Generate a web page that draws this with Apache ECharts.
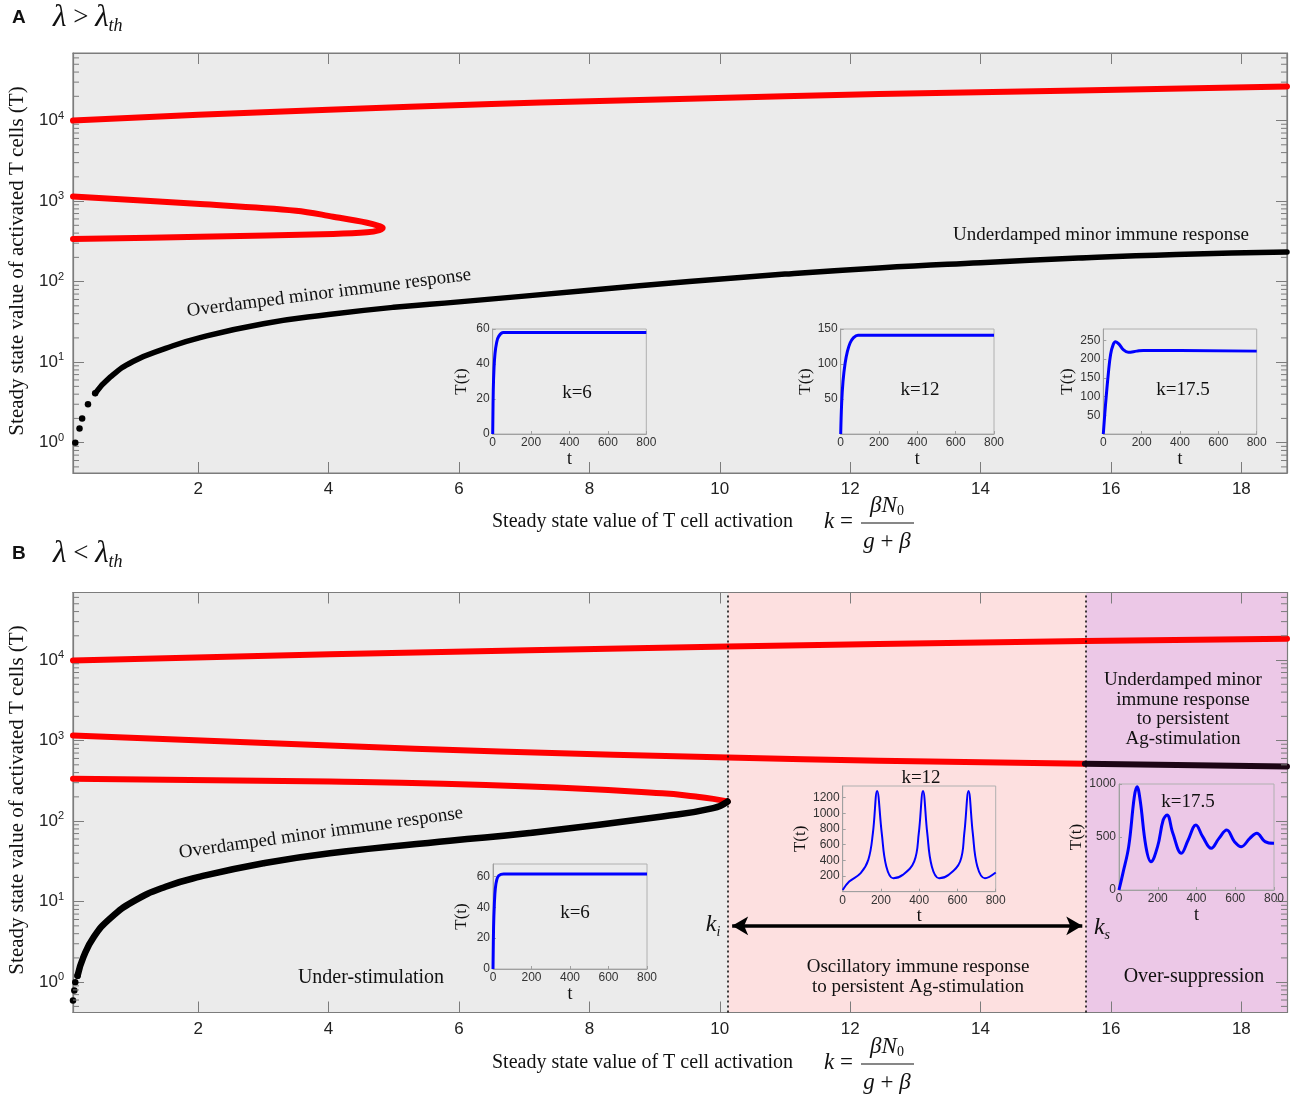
<!DOCTYPE html>
<html>
<head>
<meta charset="utf-8">
<script src="https://cdn.jsdelivr.net/npm/echarts@6/dist/echarts.min.js"></script>
<style>
  html, body { margin: 0; padding: 0; background: #fff; }
  #main { width: 1295px; height: 1098px; }
</style>
</head>
<body>
<div id="main"></div>
<script>
// axis ranges
const K_MIN = 0.08, K_MAX = 18.7;
const T_MIN = 0.42, T_MAX = 69000;
const K_I = 10.13, K_S = 15.62;

// ---- panel A (lambda > lambda_th) ----
const aTopK = [0.08, 2, 4, 6.5, 8, 9.53, 12.44, 15.5, 18.7];
const aTopT = [10000, 11800, 13600, 16000, 17400, 18600, 21300, 23600, 26500];
const aFoldK = [0.08, 2.03, 3.5, 4.07, 4.59, 4.78, 4.83, 4.78, 4.59, 4.07, 2.03, 0.08];
const aFoldT = [1140, 920, 760, 640, 539, 490, 467, 437, 409, 390, 361, 338];
const aDotsK = [0.115, 0.18, 0.22, 0.31, 0.42];
const aDotsT = [1.0, 1.5, 2.0, 3.0, 4.1];
const aLowK = [0.42, 0.65, 1.0, 1.5, 2.03, 3, 4, 5, 6, 8, 9.53, 11, 12.44, 14, 15.5, 17, 18.7];
const aLowT = [4.1, 6.5, 10.2, 14.8, 20.2, 30, 39, 48, 56, 78, 100, 124, 148, 172, 196, 217, 233];

// ---- panel B (lambda < lambda_th) ----
const bTopK = [0.08, 4.02, 10.12, 12.44, 15.6, 18.7];
const bTopT = [9900, 11800, 14700, 15800, 17200, 18400];
const bMidK = [0.08, 4.02, 6.62, 10.12, 12.44, 15.6];
const bMidT = [1160, 871, 734, 618, 562, 515];
const bMidDarkK = [15.6, 18.7];
const bMidDarkT = [515, 477];
const bLowRedK = [0.08, 4.02, 7.08, 9.12, 9.63, 9.9, 10.12];
const bLowRedT = [336, 310, 269, 222, 202, 189, 175];
const bDotsK = [0.08, 0.1, 0.115, 0.15];
const bDotsT = [0.59, 0.79, 1.0, 1.2];
const bLowK = [0.15, 0.24, 0.4, 0.65, 1.0, 1.5, 2.03, 3, 4.02, 5.86, 7.08, 9.12, 9.9, 10.12];
const bLowT = [1.2, 2.05, 3.65, 6.2, 10, 15.3, 20.4, 30, 40, 57, 71, 114, 145, 175];

// ---- inset time courses T(t) ----
const inA1t = [0, 3, 7, 12, 20, 30, 55, 800];
const inA1v = [0, 25, 38, 46, 52, 55.5, 58, 58];
const inA2t = [0, 5, 12, 23, 35, 49, 65, 90, 800];
const inA2v = [0, 44, 75, 101, 118, 130, 137, 141, 141];
const inA3t = [0, 12, 26, 38, 52, 64, 83, 104, 130, 174, 209, 800];
const inA3v = [0, 81, 160, 212, 239, 246, 239, 225, 218, 221, 223, 221];
const inB1t = [0, 3, 7, 12, 20, 30, 55, 800];
const inB1v = [0, 27, 42, 52, 58, 60.5, 61.5, 61.5];
const inB2t = [0, 34, 94, 134, 158, 180, 204, 228, 264, 314, 374, 398, 420, 442, 466, 504, 554, 614, 636, 658, 680, 704, 744, 800];
const inB2v = [22, 129, 237, 408, 751, 1287, 751, 322, 172, 215, 386, 751, 1287, 751, 322, 172, 215, 386, 751, 1287, 751, 322, 172, 245];
const inB3t = [0, 20, 50, 79, 93, 109, 139, 165, 199, 228, 248, 278, 322, 357, 397, 432, 476, 516, 556, 596, 631, 675, 711, 754, 800];
const inB3v = [0, 157, 409, 880, 975, 849, 409, 267, 409, 660, 708, 535, 346, 472, 613, 503, 393, 487, 566, 456, 409, 487, 535, 456, 440];

const LOG_MINOR_MULT = [2, 3, 4, 5, 6, 7, 8, 9];
const LOG_DECADES = [0.1, 1, 10, 100, 1000, 10000];

const SERIF = '"Liberation Serif", "Times New Roman", serif';
const SANS = '"Liberation Sans", Arial, sans-serif';
const GREY = '#7c7c7c';
const RED = '#ff0000';

function pairs(xs, ys) { return xs.map((x, i) => [x, ys[i]]); }

const grids = [], xAxes = [], yAxes = [], series = [];

const minorVals = [];
LOG_DECADES.forEach(d => LOG_MINOR_MULT.forEach(m => {
  const v = d * m;
  if (v > T_MIN && v < T_MAX) minorVals.push(v);
}));

function addMainPanel(top) {
  const g = grids.length;
  grids.push({ left: 73, top: top, width: 1214, height: 420, show: true,
    backgroundColor: '#ebebeb', borderColor: GREY, borderWidth: 1.2 });
  const xi = xAxes.length, yi = yAxes.length;
  const xb = { gridIndex: g, type: 'value', min: K_MIN, max: K_MAX, splitNumber: 9, z: 3,
    splitLine: { show: false },
    axisLine: { lineStyle: { color: GREY, width: 1.2 } },
    axisTick: { inside: true, length: 11, lineStyle: { color: GREY } } };
  xAxes.push(Object.assign({}, xb, { position: 'bottom',
    axisLabel: { fontFamily: SANS, fontSize: 17, color: '#222', margin: 8,
      showMinLabel: false, showMaxLabel: false } }));
  xAxes.push(Object.assign({}, xb, { position: 'top', axisLabel: { show: false } }));
  const yb = { gridIndex: g, type: 'log', logBase: 10, min: T_MIN, max: T_MAX, z: 3,
    splitLine: { show: false },
    axisLine: { lineStyle: { color: GREY, width: 1.2 } },
    axisTick: { inside: true, length: 11, lineStyle: { color: GREY } } };
  yAxes.push(Object.assign({}, yb, { position: 'left',
    axisLabel: { margin: 9, showMinLabel: false, showMaxLabel: false,
      formatter: v => '{b|10}{s|' + Math.round(Math.log10(v)) + '}',
      rich: { b: { fontFamily: SANS, fontSize: 17, color: '#222' },
              s: { fontFamily: SANS, fontSize: 11, color: '#222', padding: [0, 0, 10, 0] } } } }));
  yAxes.push(Object.assign({}, yb, { position: 'right', axisLabel: { show: false } }));
  // log-style minor ticks on both sides
  series.push({ type: 'custom', xAxisIndex: xi, yAxisIndex: yi, silent: true, z: 6,
    data: minorVals.map(v => [K_MIN, v]),
    renderItem: (params, api) => {
      const cs = params.coordSys;
      const y = api.coord([api.value(0), api.value(1)])[1];
      const st = { stroke: GREY, lineWidth: 1 };
      return { type: 'group', children: [
        { type: 'line', shape: { x1: cs.x, y1: y, x2: cs.x + 6, y2: y }, style: st },
        { type: 'line', shape: { x1: cs.x + cs.width - 6, y1: y, x2: cs.x + cs.width, y2: y }, style: st }
      ] };
    } });
  return { xi, yi };
}

function curve(ax, data, color, width, smooth) {
  series.push({ type: 'line', xAxisIndex: ax.xi, yAxisIndex: ax.yi, data: data,
    showSymbol: false, smooth: smooth, silent: true, z: 4,
    lineStyle: { color: color, width: width, cap: 'round', join: 'round' } });
}
function dots(ax, data, size) {
  series.push({ type: 'scatter', xAxisIndex: ax.xi, yAxisIndex: ax.yi, data: data,
    symbolSize: size, silent: true, z: 4, itemStyle: { color: '#000', opacity: 1 } });
}

function addInset(box, yMin, yMax, yInt, showMinY, showMaxY, lineW, t, v) {
  const g = grids.length;
  grids.push({ left: box[0], top: box[1], width: box[2], height: box[3], show: true, z: 5,
    backgroundColor: 'transparent', borderColor: '#b0b0b0', borderWidth: 1 });
  const xi = xAxes.length, yi = yAxes.length;
  xAxes.push({ gridIndex: g, type: 'value', min: 0, max: 800, interval: 200, z: 5,
    name: 't', nameLocation: 'middle', nameGap: 13,
    nameTextStyle: { fontFamily: SERIF, fontSize: 18, color: '#111' },
    splitLine: { show: false },
    axisLine: { lineStyle: { color: '#a0a0a0' } },
    axisTick: { inside: true, length: 3, lineStyle: { color: '#a0a0a0' } },
    axisLabel: { fontFamily: SANS, fontSize: 12, color: '#333', margin: 3, formatter: v => String(v) } });
  yAxes.push({ gridIndex: g, type: 'value', min: yMin, max: yMax, interval: yInt, z: 5,
    name: 'T(t)', nameLocation: 'middle', nameGap: 23,
    nameTextStyle: { fontFamily: SERIF, fontSize: 17, color: '#111' },
    splitLine: { show: false },
    axisLine: { lineStyle: { color: '#a0a0a0' } },
    axisTick: { inside: true, length: 3, lineStyle: { color: '#a0a0a0' } },
    axisLabel: { fontFamily: SANS, fontSize: 12, color: '#333', margin: 3, formatter: v => String(v),
      showMinLabel: showMinY, showMaxLabel: showMaxY } });
  series.push({ type: 'line', xAxisIndex: xi, yAxisIndex: yi, data: pairs(t, v),
    showSymbol: false, smooth: 0.4, silent: true, z: 6,
    lineStyle: { color: '#0000ff', width: lineW } });
}

// ---------- panel A ----------
const A = addMainPanel(53);
curve(A, pairs(aTopK, aTopT), RED, 6, true);
curve(A, pairs(aFoldK, aFoldT), RED, 6, 0.35);
curve(A, pairs(aLowK, aLowT), '#000', 5.5, true);
dots(A, pairs(aDotsK, aDotsT), 6.5);

// ---------- panel B ----------
const B = addMainPanel(592.5);
series.push({ type: 'line', xAxisIndex: B.xi, yAxisIndex: B.yi, data: [], silent: true, z: 1,
  markArea: { silent: true, data: [
    [{ xAxis: K_I, itemStyle: { color: '#fde0e0' } }, { xAxis: K_S }],
    [{ xAxis: K_S, itemStyle: { color: '#ecc8e7' } }, { xAxis: K_MAX }]
  ] },
  markLine: { silent: true, symbol: ['none', 'none'], label: { show: false },
    lineStyle: { color: '#000', type: [2, 3], width: 1.5 },
    data: [{ xAxis: K_I }, { xAxis: K_S }] } });
curve(B, pairs(bTopK, bTopT), RED, 6, true);
curve(B, pairs(bMidK, bMidT), RED, 6, true);
curve(B, pairs(bMidDarkK, bMidDarkT), '#1c0614', 6, false);
curve(B, pairs(bLowRedK, bLowRedT), RED, 6, true);
curve(B, pairs(bLowK, bLowT), '#000', 6.5, true);
dots(B, pairs(bDotsK, bDotsT), 6.5);
// double arrow between k_i and k_s
series.push({ type: 'line', xAxisIndex: B.xi, yAxisIndex: B.yi, data: [], silent: true, z: 6,
  markLine: { silent: true, symbol: ['arrow', 'arrow'], symbolSize: [14, 16], label: { show: false },
    lineStyle: { color: '#000', type: 'solid', width: 3.5 },
    data: [[{ coord: [K_I + 0.06, 5] }, { coord: [K_S - 0.06, 5] }]] } });

// ---------- insets ----------
addInset([492.7, 329, 153.6, 105], 0, 60, 20, true, true, 3, inA1t, inA1v);
addInset([840.7, 329, 153.3, 105], 0, 150, 50, false, true, 3, inA2t, inA2v);
addInset([1103.3, 329, 153.4, 105], 0, 280, 50, false, false, 3, inA3t, inA3v);
addInset([493, 864, 154, 105], 0, 68, 20, true, false, 3, inB1t, inB1v);
addInset([842.7, 786, 153, 105.7], 0, 1350, 200, false, false, 2, inB2t, inB2v);
addInset([1119, 784, 155, 106], 0, 1000, 500, true, true, 3, inB3t, inB3v);

// ---------- text ----------
function txt(x, y, text, st, extra) {
  return Object.assign({ type: 'text', x: x, y: y, silent: true, z: 20,
    style: Object.assign({ text: text, fontFamily: SERIF, fontSize: 20, fill: '#111',
      align: 'center', verticalAlign: 'middle' }, st || {}) }, extra || {});
}
const lamRich = {
  i: { fontFamily: SERIF, fontStyle: 'italic', fontSize: 31, color: '#111' },
  n: { fontFamily: SERIF, fontSize: 27, color: '#111' },
  sub: { fontFamily: SERIF, fontStyle: 'italic', fontSize: 18, color: '#111', padding: [16, 0, 0, 0] }
};
const fracRich = {
  i: { fontFamily: SERIF, fontStyle: 'italic', fontSize: 23, color: '#111' },
  n: { fontFamily: SERIF, fontSize: 23, color: '#111' },
  sub: { fontFamily: SERIF, fontSize: 14, color: '#111', padding: [10, 0, 0, 0] }
};
function xTitle(yc) {
  return [
    txt(492, yc, 'Steady state value of T cell activation', { align: 'left' }),
    txt(824, yc, '{i|k}{n| =}', { align: 'left', rich: fracRich }),
    txt(887, yc - 16, '{i|βN}{sub|0}', { rich: fracRich }),
    { type: 'line', silent: true, z: 20, shape: { x1: 861, y1: yc + 1, x2: 914, y2: yc + 1 },
      style: { stroke: '#111', lineWidth: 1.2 } },
    txt(887, yc + 20, '{i|g}{n| + }{i|β}', { rich: fracRich })
  ];
}
const kRich = {
  i: { fontFamily: SERIF, fontStyle: 'italic', fontSize: 24, color: '#111' },
  sub: { fontFamily: SERIF, fontStyle: 'italic', fontSize: 14, color: '#111', padding: [14, 0, 0, 0] }
};

const graphics = [
  txt(12, 18, 'A', { align: 'left', fontFamily: SANS, fontWeight: 'bold', fontSize: 19 }),
  txt(53, 18, '{i|λ}{n| > }{i|λ}{sub|th}', { align: 'left', rich: lamRich }),
  txt(17, 261, 'Steady state value of activated T cells (T)', { fontSize: 21 }, { rotation: Math.PI / 2 }),
  txt(329, 293, 'Overdamped minor immune response', { fontSize: 19 }, { rotation: 0.128 }),
  txt(1101, 235, 'Underdamped minor immune response', { fontSize: 19 }),
  txt(577, 393, 'k=6', { fontSize: 19 }),
  txt(920, 390, 'k=12', { fontSize: 19 }),
  txt(1183, 390, 'k=17.5', { fontSize: 19 }),
  ...xTitle(522),

  txt(12, 554, 'B', { align: 'left', fontFamily: SANS, fontWeight: 'bold', fontSize: 19 }),
  txt(53, 554, '{i|λ}{n| < }{i|λ}{sub|th}', { align: 'left', rich: lamRich }),
  txt(17, 800, 'Steady state value of activated T cells (T)', { fontSize: 21 }, { rotation: Math.PI / 2 }),
  txt(321, 833, 'Overdamped minor immune response', { fontSize: 19 }, { rotation: 0.14 }),
  txt(371, 978, 'Under-stimulation', { fontSize: 20 }),
  txt(918, 977, 'Oscillatory immune response\nto persistent Ag-stimulation', { fontSize: 19, lineHeight: 20 }),
  txt(1194, 977, 'Over-suppression', { fontSize: 20 }),
  txt(1183, 709.5, 'Underdamped minor\nimmune response\nto persistent\nAg-stimulation', { fontSize: 19, lineHeight: 19.5 }),
  txt(713, 925, '{i|k}{sub|i}', { rich: kRich }),
  txt(1102, 928, '{i|k}{sub|s}', { rich: kRich }),
  txt(575, 913, 'k=6', { fontSize: 19 }),
  txt(921, 778, 'k=12', { fontSize: 19 }),
  txt(1188, 802, 'k=17.5', { fontSize: 19 }),
  ...xTitle(1063)
];

const chart = echarts.init(document.getElementById('main'), null, { renderer: 'canvas' });
chart.setOption({
  backgroundColor: '#ffffff',
  animation: false,
  grid: grids,
  xAxis: xAxes,
  yAxis: yAxes,
  series: series,
  graphic: graphics
});
</script>
</body>
</html>
